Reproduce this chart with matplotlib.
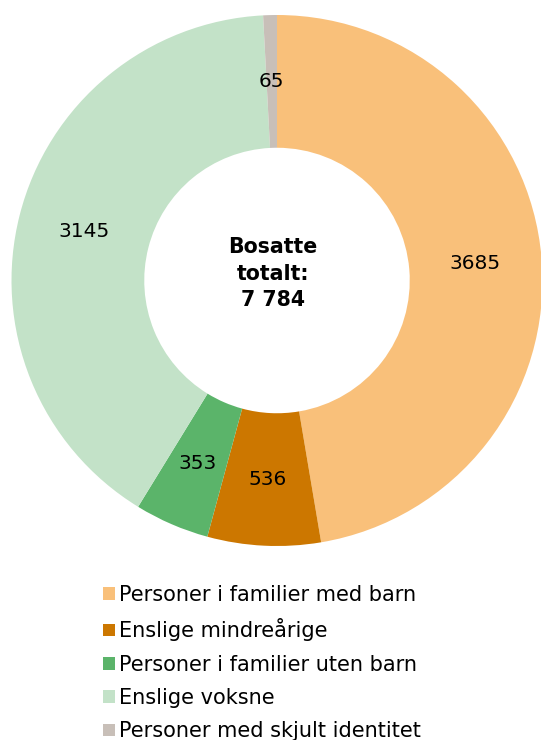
import matplotlib.pyplot as plt
from matplotlib.patches import Patch

categories = ["Personer i familier med barn", "Enslige mindreårige",
              "Personer i familier uten barn", "Enslige voksne",
              "Personer med skjult identitet"]
values = [3685, 536, 353, 3145, 65]
colors = ["#F9C07A", "#CC7700", "#5BB46A", "#C3E2C8", "#C8BFB8"]
center_text = "Bosatte\ntotalt:\n7 784"

fig = plt.figure(figsize=(5.41, 7.40), dpi=100)
W, H = 541, 740
cx, cy, r = 277, 280.5, 265.5
ax = fig.add_axes([(cx - r) / W, (H - cy - r) / H, 2 * r / W, 2 * r / H])

wedges, texts = ax.pie(values, colors=colors, startangle=90, counterclock=False,
                       radius=1, wedgeprops=dict(width=0.5, linewidth=0),
                       labels=[str(v) for v in values], labeldistance=0.75,
                       textprops=dict(fontsize=14.5, ha="center", va="center"))
for t in texts:
    t.set_ha("center")
ax.set_xlim(-1, 1)
ax.set_ylim(-1, 1)
ax.set_aspect("equal")
ax.axis("off")

ax.text(-0.015, 0.026, center_text, ha="center", va="center", fontsize=14.8,
        fontweight="bold", linespacing=1.42)

handles = [Patch(facecolor=c, edgecolor="none") for c in colors]
fig.legend(handles, categories, loc="upper left", bbox_to_anchor=(103 / W, 1 - 585 / H),
           frameon=False, fontsize=15, handlelength=0.58, handleheight=0.58,
           handletextpad=0.2, labelspacing=0.64, borderpad=0, borderaxespad=0)

fig.savefig("out.png", dpi=100)
